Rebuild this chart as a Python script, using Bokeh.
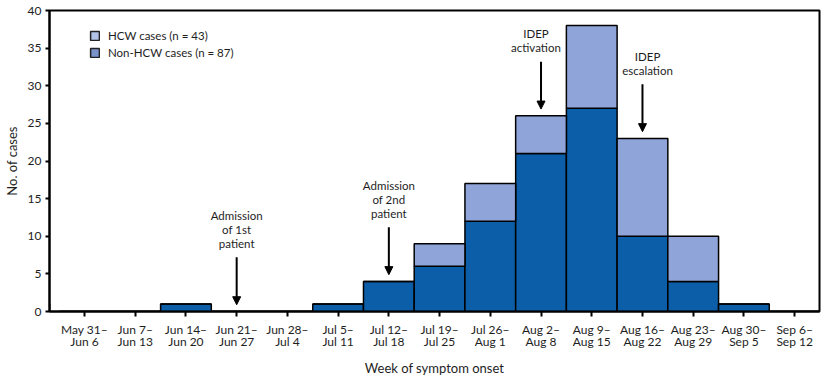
from bokeh.plotting import figure
from bokeh.models import Range1d, FixedTicker, Arrow, NormalHead, Legend, LegendItem, ColumnDataSource
from bokeh.core.properties import value
from bokeh.embed import file_html
from bokeh.resources import INLINE

weeks = ["May 31–\nJun 6", "Jun 7–\nJun 13", "Jun 14–\nJun 20", "Jun 21–\nJun 27",
         "Jun 28–\nJul 4", "Jul 5–\nJul 11", "Jul 12–\nJul 18", "Jul 19–\nJul 25",
         "Jul 26–\nAug 1", "Aug 2–\nAug 8", "Aug 9–\nAug 15", "Aug 16–\nAug 22",
         "Aug 23–\nAug 29", "Aug 30–\nSep 5", "Sep 6–\nSep 12"]
non_hcw = [0, 0, 1, 0, 0, 1, 4, 6, 12, 21, 27, 10, 4, 1, 0]
hcw = [0, 0, 0, 0, 0, 0, 0, 3, 5, 5, 11, 13, 6, 0, 0]
y_ticks = [0, 5, 10, 15, 20, 25, 30, 35, 40]

ann_week = [3, 6, 9, 11]
ann_text = ["Admission\nof 1st\npatient", "Admission\nof 2nd\npatient", "IDEP\nactivation", "IDEP\nescalation"]
ann_text_shift = [0, 0, -0.1, 0.1]

DARK = "#0b5ea7"
LIGHT = "#8fa5d9"
FONT = "Lato"
TXT = "#1e1e1e"

xs = list(range(len(weeks)))
src = ColumnDataSource(dict(x=xs, non_hcw=non_hcw, hcw=hcw))

p = figure(width=821, height=379, x_range=Range1d(-0.69, 14.49), y_range=Range1d(0, 40),
           output_backend="svg", toolbar_location=None,
           min_border_left=40, min_border_right=2, min_border_top=10, min_border_bottom=56)

p.vbar_stack(["non_hcw", "hcw"], x="x", width=1.0, source=src, color=[DARK, LIGHT],
             line_color="black", line_width=1.5)

# annotations
totals = [a + b for a, b in zip(non_hcw, hcw)]
tips = [max(totals[i], 0) + 0.9 for i in ann_week]
tails = [t + 6.3 for t in tips]
text_y = [t + 1.0 for t in tails]
text_x = [i + d for i, d in zip(ann_week, ann_text_shift)]
for i, tp, tl in zip(ann_week, tips, tails):
    p.add_layout(Arrow(end=NormalHead(size=8, fill_color="black", line_color="black", line_width=1),
                       x_start=i, y_start=tl, x_end=i, y_end=tp,
                       line_color="black", line_width=2))
p.text(x=text_x, y=text_y, text=ann_text, text_align="center", text_baseline="bottom",
       text_font=value(FONT), text_font_size="11.5px", text_color=TXT, text_line_height=1.05)

# legend-only swatches (placed outside the visible range)
r1 = p.vbar(x=[-5], top=[1], width=1, fill_color="#b4c3e8", line_color="#222222", line_width=1.5)
r2 = p.vbar(x=[-5], top=[1], width=1, fill_color="#7a93cb", line_color="#222222", line_width=1.5)
legend = Legend(items=[LegendItem(label="HCW cases (n = 43)", renderers=[r1]),
                       LegendItem(label="Non-HCW cases (n = 87)", renderers=[r2])],
                location=(40, 252), padding=0, margin=0, spacing=4,
                glyph_width=11, glyph_height=11, label_height=12, label_standoff=8,
                label_text_font=FONT, label_text_font_size="11.5px", label_text_color=TXT,
                label_text_line_height=1.0,
                border_line_color=None, background_fill_alpha=0)
p.add_layout(legend)

p.xgrid.visible = False
p.ygrid.visible = False
p.outline_line_color = "black"
p.outline_line_width = 2
p.outline_line_alpha = 1

p.xaxis.ticker = FixedTicker(ticks=xs)
p.xaxis.major_label_overrides = {i: w for i, w in enumerate(weeks)}
p.xaxis.minor_tick_line_color = None
p.xaxis.major_tick_out = 5
p.xaxis.major_tick_in = 0
p.xaxis.major_tick_line_width = 2
p.xaxis.axis_line_width = 2
p.xaxis.axis_label = "Week of symptom onset"
p.xaxis.major_label_standoff = 5
p.xaxis.axis_label_standoff = 8
p.xaxis.major_label_text_line_height = 0.85

p.yaxis.ticker = FixedTicker(ticks=y_ticks)
p.yaxis.minor_tick_line_color = None
p.yaxis.major_tick_out = 4
p.yaxis.major_tick_in = 0
p.yaxis.major_tick_line_width = 2
p.yaxis.axis_line_width = 2
p.yaxis.axis_label = "No. of cases"
p.yaxis.major_label_standoff = 4
p.yaxis.axis_label_standoff = 5

for ax in (p.xaxis, p.yaxis):
    ax.major_label_text_font = FONT
    ax.major_label_text_font_size = "12px"
    ax.major_label_text_color = TXT
    ax.axis_label_text_font = FONT
    ax.axis_label_text_font_size = "13px"
    ax.axis_label_text_font_style = "normal"
    ax.axis_label_text_color = TXT
    ax.axis_line_color = "black"
    ax.major_tick_line_color = "black"

open("out.html", "w").write(file_html(p, INLINE))
